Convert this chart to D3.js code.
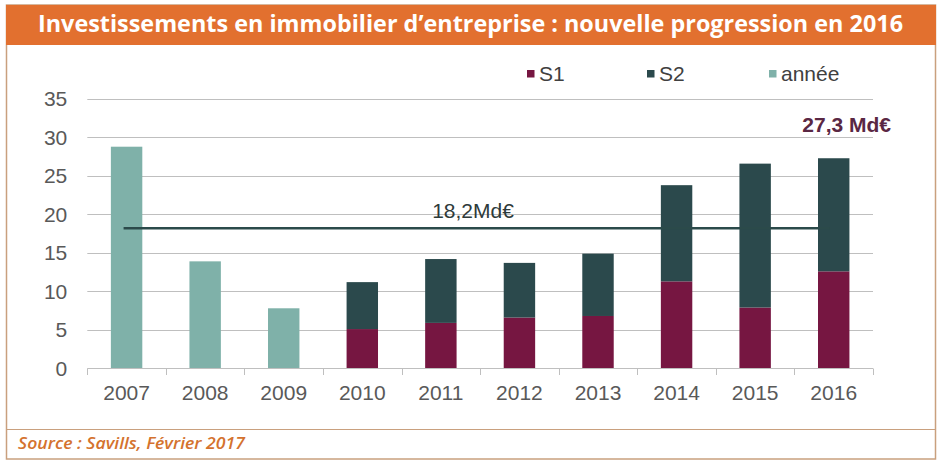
<!DOCTYPE html>
<html>
<head>
<meta charset="utf-8">
<script src="https://cdn.jsdelivr.net/npm/d3@7"></script>
<style>
  html, body { margin: 0; padding: 0; background: #fff; }
  svg { display: block; }
</style>
</head>
<body>
<div id="chart"></div>
<script>
// values (Md€)
const years = ['2007', '2008', '2009', '2010', '2011', '2012', '2013', '2014', '2015', '2016']
const annee = [28.8, 13.9, 7.8, null, null, null, null, null, null, null]
const s1 = [null, null, null, 5.1, 5.9, 6.6, 6.8, 11.3, 7.9, 12.6]
const s2 = [null, null, null, 6.1, 8.3, 7.1, 8.1, 12.5, 18.7, 14.7]
const yTicks = [0, 5, 10, 15, 20, 25, 30, 35]
const average = 18.2
const averageLabel = '18,2Md€'
const totalLabel = '27,3 Md€'
const legendItems = ['S1', 'S2', 'année']

const W = 943
const H = 467
const colors = { S1: '#761641', S2: '#2b494c', 'année': '#7fb1a9' }

const svg = d3.select('#chart').append('svg')
  .attr('width', W)
  .attr('height', H)

// frame
svg.append('rect')
  .attr('x', 6.5).attr('y', 5).attr('width', 929).attr('height', 454)
  .attr('fill', '#fff').attr('stroke', '#c9a07e').attr('stroke-width', 1.5)

svg.append('rect')
  .attr('x', 6).attr('y', 5).attr('width', 930).attr('height', 40)
  .attr('fill', '#e2702f')

svg.append('text')
  .attr('x', 38).attr('y', 32)
  .attr('textLength', 865).attr('lengthAdjust', 'spacingAndGlyphs')
  .style('font-family', '"Open Sans", sans-serif')
  .style('font-weight', 700)
  .style('font-size', '24px')
  .attr('fill', '#fff')
  .text('Investissements en immobilier d\u2019entreprise : nouvelle progression en 2016')

svg.append('line')
  .attr('x1', 6.5).attr('x2', 935.5).attr('y1', 429.5).attr('y2', 429.5)
  .attr('stroke', '#c9a07e').attr('stroke-width', 1.2)

svg.append('text')
  .attr('x', 18).attr('y', 448.5)
  .attr('textLength', 227).attr('lengthAdjust', 'spacingAndGlyphs')
  .style('font-family', '"Open Sans", sans-serif')
  .style('font-style', 'italic')
  .style('font-weight', 600)
  .style('font-size', '17px')
  .attr('fill', '#d4722e')
  .text('Source : Savills, Février 2017')

// scales
const left = 87.3
const right = 873
const x = d3.scaleBand()
  .domain(years)
  .range([left, right])
  .paddingInner(0.6)
  .paddingOuter(0.3)

const y = d3.scaleLinear()
  .domain([0, 35])
  .range([368.3, 99])

const font = '"Liberation Sans", Arial, sans-serif'

// gridlines
svg.append('g')
  .selectAll('line')
  .data(yTicks.filter(d => d > 0))
  .join('line')
  .attr('x1', left).attr('x2', right)
  .attr('y1', d => Math.round(y(d)) + 0.5).attr('y2', d => Math.round(y(d)) + 0.5)
  .attr('stroke', '#bfbfbf').attr('stroke-width', 1)

// y axis labels
const yAxis = svg.append('g')
  .attr('transform', 'translate(' + (left - 20) + ',0)')
  .call(d3.axisLeft(y).tickValues(yTicks).tickSize(0).tickPadding(0))
yAxis.select('.domain').remove()
yAxis.selectAll('text')
  .style('font-family', font).style('font-size', '21px').attr('fill', '#595959')

// bars
const stacks = years.map((yr, i) => ({ year: yr, annee: annee[i], s1: s1[i], s2: s2[i] }))
const barG = svg.append('g')

barG.selectAll('rect.annee')
  .data(stacks.filter(d => d.annee != null))
  .join('rect')
  .attr('class', 'annee')
  .attr('x', d => x(d.year)).attr('width', x.bandwidth())
  .attr('y', d => y(d.annee)).attr('height', d => y(0) - y(d.annee))
  .attr('fill', colors['année'])

barG.selectAll('rect.s1')
  .data(stacks.filter(d => d.s1 != null))
  .join('rect')
  .attr('class', 's1')
  .attr('x', d => x(d.year)).attr('width', x.bandwidth())
  .attr('y', d => y(d.s1)).attr('height', d => y(0) - y(d.s1))
  .attr('fill', colors.S1)

barG.selectAll('rect.s2')
  .data(stacks.filter(d => d.s2 != null))
  .join('rect')
  .attr('class', 's2')
  .attr('x', d => x(d.year)).attr('width', x.bandwidth())
  .attr('y', d => y(d.s1 + d.s2)).attr('height', d => y(d.s1) - y(d.s1 + d.s2))
  .attr('fill', colors.S2)

// x axis with ticks at category boundaries
const step = x.step()
const boundaries = d3.range(years.length + 1).map(i => left + i * step)
const xAxisG = svg.append('g')
xAxisG.append('line')
  .attr('x1', left).attr('x2', right)
  .attr('y1', Math.round(y(0)) + 0.5).attr('y2', Math.round(y(0)) + 0.5)
  .attr('stroke', '#bfbfbf')
xAxisG.selectAll('line.tick')
  .data(boundaries)
  .join('line')
  .attr('class', 'tick')
  .attr('x1', d => Math.round(d) + 0.5).attr('x2', d => Math.round(d) + 0.5)
  .attr('y1', Math.round(y(0)) + 0.5).attr('y2', Math.round(y(0)) + 7)
  .attr('stroke', '#bfbfbf')
xAxisG.selectAll('text')
  .data(years)
  .join('text')
  .attr('x', d => x(d) + x.bandwidth() / 2)
  .attr('y', 400)
  .attr('text-anchor', 'middle')
  .style('font-family', font).style('font-size', '21px').attr('fill', '#595959')
  .text(d => d)

// average line
const cx = d => x(d) + x.bandwidth() / 2
svg.append('line')
  .attr('x1', cx(years[0]) - 3).attr('x2', cx(years[years.length - 1]) - 4)
  .attr('y1', y(average)).attr('y2', y(average))
  .attr('stroke', '#2b4a4a').attr('stroke-width', 2.5)

svg.append('text')
  .attr('x', 473).attr('y', 218)
  .attr('text-anchor', 'middle')
  .style('font-family', font).style('font-size', '21px').attr('fill', '#2e3a3a')
  .text(averageLabel)

svg.append('text')
  .attr('x', 891).attr('y', 131.5)
  .attr('text-anchor', 'end')
  .style('font-family', font).style('font-size', '21px').style('font-weight', 700)
  .attr('fill', '#5a2743')
  .text(totalLabel)

// legend
const legendX = [527, 647, 769]
const legend = svg.append('g')
  .selectAll('g')
  .data(legendItems)
  .join('g')
  .attr('transform', (d, i) => 'translate(' + legendX[i] + ',70)')
legend.append('rect')
  .attr('width', 7.5).attr('height', 7.5)
  .attr('fill', d => colors[d])
legend.append('text')
  .attr('x', 12).attr('y', 10.5)
  .style('font-family', font).style('font-size', '21px').attr('fill', '#404040')
  .text(d => d)
</script>
</body>
</html>
